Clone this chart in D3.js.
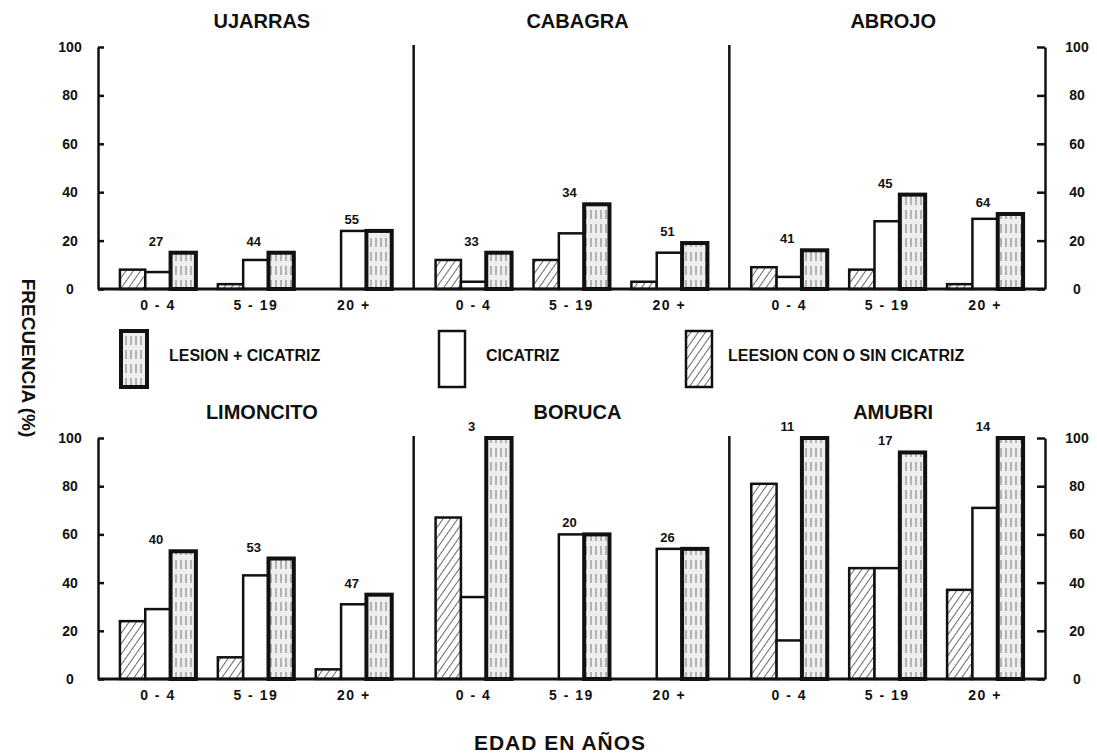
<!DOCTYPE html>
<meta charset="utf-8">
<style>
    body { margin: 0; background: #fff; }
    text { font-family: "Liberation Sans", Arial, sans-serif; fill: #111; }
    .title { font-size: 20px; font-weight: bold; }
    .tick text { font-size: 14px; font-weight: bold; }
    .cat { font-size: 14px; font-weight: bold; letter-spacing: 1.5px; }
    .n { font-size: 13px; font-weight: bold; }
    .legend { font-size: 16px; font-weight: bold; }
</style>
<svg width="1097" height="754"></svg>
<script src="https://d3js.org/d3.v7.min.js"></script>
<script>
    // data
    let sites = ["UJARRAS", "CABAGRA", "ABROJO", "LIMONCITO", "BORUCA", "AMUBRI"];
    let ageGroups = ["0 - 4", "5 - 19", "20 +"];
    let seriesNames = ["LEESION CON O SIN CICATRIZ", "CICATRIZ", "LESION + CICATRIZ"];
    let lesionConSin = [[8, 2, 0], [12, 12, 3], [9, 8, 2], [24, 9, 4], [67, 0, 0], [81, 46, 37]];
    let cicatriz = [[7, 12, 24], [3, 23, 15], [5, 28, 29], [29, 43, 31], [34, 60, 54], [16, 46, 71]];
    let lesionCicatriz = [[15, 15, 24], [15, 35, 19], [16, 39, 31], [53, 50, 35], [100, 60, 54], [100, 94, 100]];
    let nCases = [[27, 44, 55], [33, 34, 51], [41, 45, 64], [40, 53, 47], [3, 20, 26], [11, 17, 14]];
    let yTicks = [0, 20, 40, 60, 80, 100];

    let seriesValues = [lesionConSin, cicatriz, lesionCicatriz];

    let svg = d3.select("svg");
    let left = 98, right = 1045, panelW = (right - left) / 3;
    let rows = [
        {y: d3.scaleLinear().domain([0, 100]).range([289, 47]), titleY: 28, catY: 310},
        {y: d3.scaleLinear().domain([0, 100]).range([679, 438]), titleY: 419, catY: 700}
    ];

    // fill patterns
    let defs = svg.append("defs");
    let hatch = defs.append("pattern")
        .attr("id", "hatch")
        .attr("patternUnits", "userSpaceOnUse")
        .attr("width", 6).attr("height", 6)
        .attr("patternTransform", "rotate(35)");
    hatch.append("rect").attr("width", 6).attr("height", 6).attr("fill", "#fff");
    hatch.append("line").attr("x1", 0).attr("y1", 0).attr("x2", 0).attr("y2", 6)
        .attr("stroke", "#444").attr("stroke-width", 1.6);

    let streak = defs.append("pattern")
        .attr("id", "streak")
        .attr("patternUnits", "userSpaceOnUse")
        .attr("width", 5).attr("height", 14);
    streak.append("rect").attr("width", 5).attr("height", 14).attr("fill", "#eeeeee");
    streak.append("line").attr("x1", 1).attr("y1", 0).attr("x2", 1).attr("y2", 9)
        .attr("stroke", "#777").attr("stroke-width", 1);

    let fills = ["url(#hatch)", "#fff", "url(#streak)"];
    let strokeW = [2.5, 2.5, 4];

    sites.forEach(function (site, i) {
        let row = rows[Math.floor(i / 3)];
        let x0 = left + (i % 3) * panelW;
        let y = row.y;

        let xg = d3.scaleBand()
            .domain(ageGroups)
            .range([x0, x0 + panelW])
            .paddingInner(0.224)
            .paddingOuter(0.224);
        let xs = d3.scaleBand()
            .domain(seriesNames)
            .range([0, xg.bandwidth()]);

        let g = svg.append("g");

        ageGroups.forEach(function (age, j) {
            seriesNames.forEach(function (s, k) {
                let v = seriesValues[k][i][j];
                if (v <= 0) return;
                g.append("rect")
                    .attr("x", xg(age) + xs(s))
                    .attr("y", y(v))
                    .attr("width", xs.bandwidth())
                    .attr("height", y(0) - y(v))
                    .attr("fill", fills[k])
                    .attr("stroke", "#111")
                    .attr("stroke-width", strokeW[k]);
            });

            let top = d3.max(seriesValues, sv => sv[i][j]);
            g.append("text")
                .attr("class", "n")
                .attr("x", xg(age) + xs(seriesNames[1]) + xs.bandwidth() / 2 - 2)
                .attr("y", y(top) - 7)
                .attr("text-anchor", "middle")
                .text(nCases[i][j]);

            g.append("text")
                .attr("class", "cat")
                .attr("x", xg(age) + xg.bandwidth() / 2)
                .attr("y", row.catY)
                .attr("text-anchor", "middle")
                .text(age);
        });

        svg.append("text")
            .attr("class", "title")
            .attr("x", x0 + panelW / 2 + 6)
            .attr("y", row.titleY)
            .attr("text-anchor", "middle")
            .text(site);

        // panel divider
        if (i % 3 > 0) {
            svg.append("line")
                .attr("x1", x0).attr("x2", x0)
                .attr("y1", y(100) - 2).attr("y2", y(0))
                .attr("stroke", "#111").attr("stroke-width", 2.5);
        }
    });

    rows.forEach(function (row) {
        let y = row.y;
        let la = svg.append("g")
            .attr("transform", `translate(${left},0)`)
            .call(d3.axisLeft(y).tickValues(yTicks).tickSizeInner(-6).tickSizeOuter(0).tickPadding(0));
        la.selectAll(".tick text").attr("x", -28).attr("text-anchor", "middle");

        let ra = svg.append("g")
            .attr("transform", `translate(${right},0)`)
            .call(d3.axisRight(y).tickValues(yTicks).tickSizeInner(-8).tickSizeOuter(0).tickPadding(0));
        ra.selectAll(".tick text").attr("x", 32).attr("text-anchor", "middle");

        svg.selectAll(".domain").attr("stroke", "#111").attr("stroke-width", 2.5);
        svg.selectAll(".tick line").attr("stroke", "#111").attr("stroke-width", 2.5);

        // baseline
        svg.append("line")
            .attr("x1", left).attr("x2", right)
            .attr("y1", y(0)).attr("y2", y(0))
            .attr("stroke", "#111").attr("stroke-width", 3);
    });

    // legend
    let legendX = [121, 439, 686];
    let legendTextX = [169, 486, 728];
    let legendText = [seriesNames[2], seriesNames[1], seriesNames[0]];
    let legendFill = [fills[2], fills[1], fills[0]];
    let legendStroke = [strokeW[2], strokeW[1], strokeW[0]];
    legendX.forEach(function (lx, k) {
        svg.append("rect")
            .attr("x", lx).attr("y", 331)
            .attr("width", 26).attr("height", 56)
            .attr("fill", legendFill[k])
            .attr("stroke", "#111")
            .attr("stroke-width", legendStroke[k]);
        svg.append("text")
            .attr("class", "legend")
            .attr("x", legendTextX[k]).attr("y", 361)
            .text(legendText[k]);
    });

    // axis titles
    svg.append("text")
        .attr("transform", "translate(22,358) rotate(90)")
        .attr("text-anchor", "middle")
        .attr("font-size", 19)
        .attr("font-weight", "bold")
        .text("FRECUENCIA (%)");

    svg.append("text")
        .attr("x", 560).attr("y", 750)
        .attr("text-anchor", "middle")
        .attr("font-size", 21)
        .attr("font-weight", "bold")
        .attr("letter-spacing", 1)
        .text("EDAD EN AÑOS");
</script>
